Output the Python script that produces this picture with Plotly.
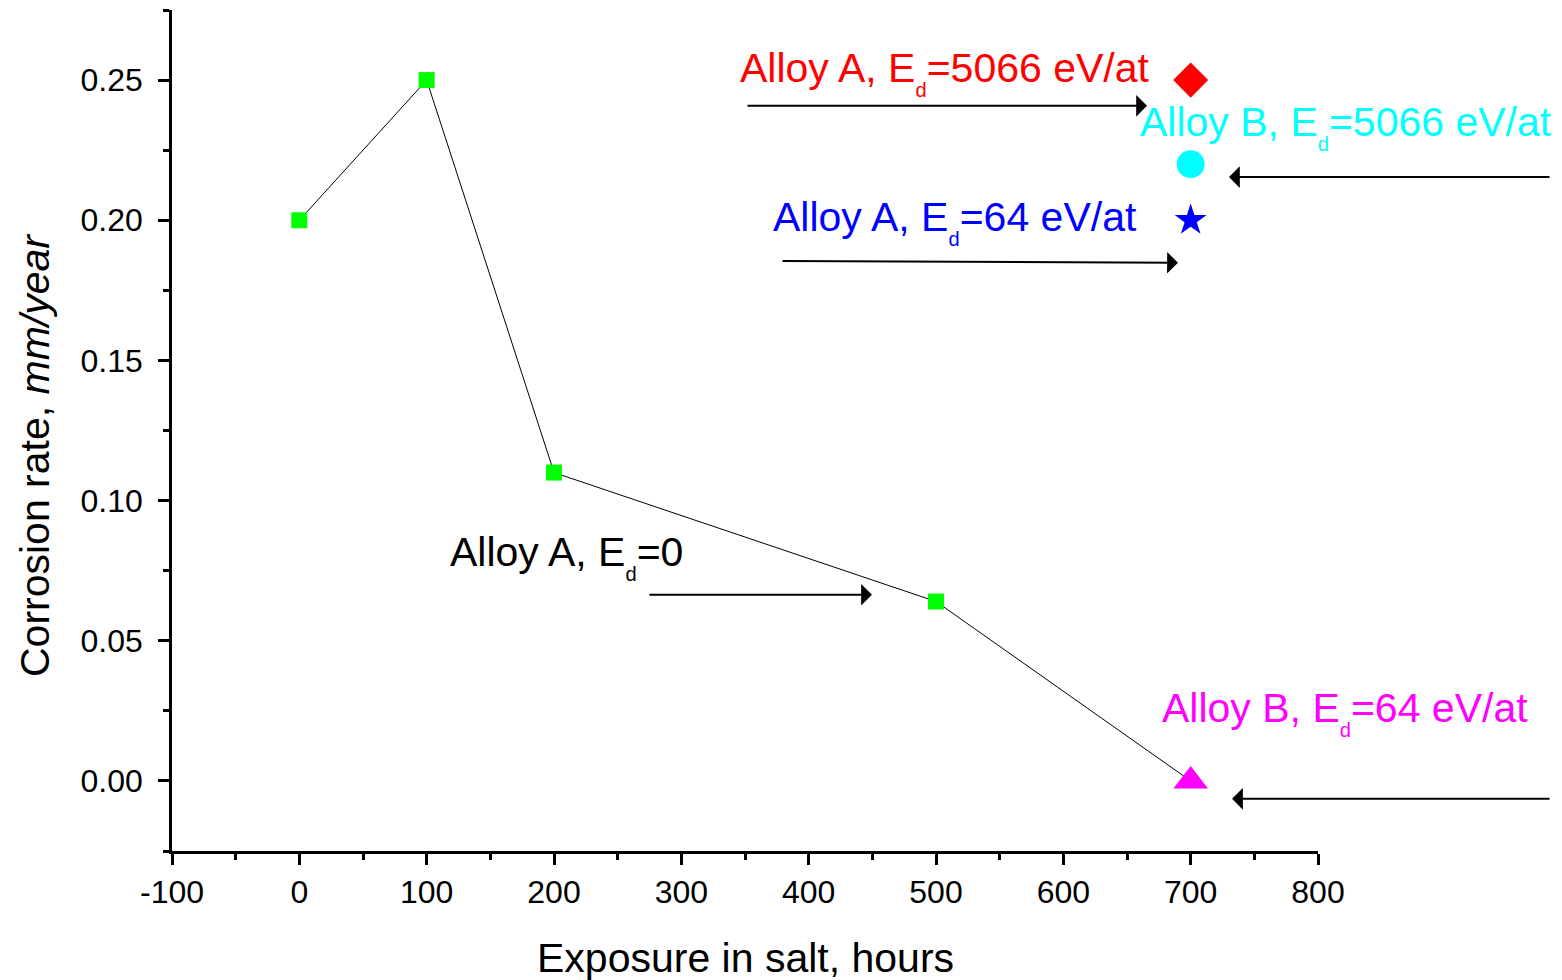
import plotly.graph_objects as go

# Data
hours_A0 = [0, 100, 200, 500]
rate_A0 = [0.20, 0.25, 0.11, 0.064]

x_single = 700
rate_A5066 = 0.25
rate_B5066 = 0.22
rate_A64 = 0.20
rate_B64 = 0.0

x_ticks = [-100, 0, 100, 200, 300, 400, 500, 600, 700, 800]
y_ticks = [0.00, 0.05, 0.10, 0.15, 0.20, 0.25]

FONT = "Arial, Liberation Sans, sans-serif"
SUB = "<sub><sub>d</sub></sub>"

fig = go.Figure()

# connecting line (Alloy A Ed=0 series continuing to 700 h)
fig.add_trace(go.Scatter(
    x=hours_A0 + [x_single], y=rate_A0 + [rate_B64], mode="lines",
    line=dict(color="black", width=1), showlegend=False, hoverinfo="skip"))
fig.add_trace(go.Scatter(
    x=hours_A0, y=rate_A0, mode="markers",
    marker=dict(symbol="square", size=16, color="#00FF00"), showlegend=False))
fig.add_trace(go.Scatter(
    x=[x_single], y=[rate_A5066], mode="markers",
    marker=dict(symbol="diamond", size=27, color="#FF0000"), showlegend=False))
fig.add_trace(go.Scatter(
    x=[x_single], y=[rate_B5066], mode="markers",
    marker=dict(symbol="circle", size=28, color="#00FFFF"), showlegend=False))
fig.add_trace(go.Scatter(
    x=[x_single], y=[rate_A64], mode="markers",
    marker=dict(symbol="star", size=24, color="#0000FF"), showlegend=False))
fig.add_trace(go.Scatter(
    x=[x_single], y=[rate_B64], mode="markers",
    marker=dict(symbol="triangle-up", size=30, color="#FF00FF"), showlegend=False))

ann = []
labels = [
    ("Alloy A, E" + SUB + "=5066 eV/at", "#FF0000", 344.5, 0.2527),
    ("Alloy B, E" + SUB + "=5066 eV/at", "#00FFFF", 658.6, 0.2331),
    ("Alloy A, E" + SUB + "=64 eV/at", "#0000FF", 370.4, 0.1992),
    ("Alloy A, E" + SUB + "=0", "#000000", 116.8, 0.0797),
    ("Alloy B, E" + SUB + "=64 eV/at", "#FF00FF", 675.9, 0.0243),
]
for txt, col, lx, ly in labels:
    ann.append(dict(x=lx, y=ly, xref="x", yref="y", text=txt, showarrow=False,
                    xanchor="left", yanchor="middle",
                    font=dict(family=FONT, size=41, color=col)))

arrows = [
    (665.7, 0.2408, 350.8, 0.2408),
    (730.1, 0.2154, 983.0, 0.2154),
    (690.0, 0.1848, 378.3, 0.1855),
    (449.7, 0.0664, 273.8, 0.0664),
    (732.5, -0.0064, 983.0, -0.0064),
]
for hx, hy, tx, ty in arrows:
    ann.append(dict(x=hx, y=hy, ax=tx, ay=ty, xref="x", yref="y", axref="x", ayref="y",
                    text="", showarrow=True, arrowhead=1, arrowsize=1.8, arrowwidth=2,
                    arrowcolor="black", standoff=0, startstandoff=0))

ann.append(dict(x=-0.1195, y=0.4709, xref="paper", yref="paper",
                text="Corrosion rate, <i>mm/year</i>", textangle=-90, showarrow=False,
                xanchor="center", yanchor="middle",
                font=dict(family=FONT, size=41, color="black")))
ann.append(dict(x=0.5, y=-0.1272, xref="paper", yref="paper",
                text="Exposure in salt, hours", showarrow=False,
                xanchor="center", yanchor="middle",
                font=dict(family=FONT, size=41, color="black")))

# page has an 8px body margin; offset the plot area to compensate
fig.update_layout(
    width=1562, height=980,
    margin=dict(l=164, r=252, t=2, b=137),
    paper_bgcolor="white", plot_bgcolor="white",
    annotations=ann,
    font=dict(family=FONT, color="black"),
)
fig.update_xaxes(
    range=[-100, 800], tickvals=x_ticks, ticktext=[str(v) for v in x_ticks],
    ticks="outside", ticklen=11, tickwidth=2.5, tickcolor="black",
    showline=True, linewidth=2.5, linecolor="black", showgrid=False, zeroline=False,
    tickfont=dict(family=FONT, size=32, color="black"),
    minor=dict(ticks="outside", ticklen=6, tickwidth=2.5, tickcolor="black",
               tick0=-100, dtick=50, showgrid=False),
)
fig.update_yaxes(
    range=[-0.025, 0.275], tickvals=y_ticks, ticktext=[f"{v:.2f}" for v in y_ticks],
    ticks="outside", ticklen=11, tickwidth=2.5, tickcolor="black",
    showline=True, linewidth=2.5, linecolor="black", showgrid=False, zeroline=False,
    tickfont=dict(family=FONT, size=32, color="black"), ticklabelstandoff=9,
    minor=dict(ticks="outside", ticklen=6, tickwidth=2.5, tickcolor="black",
               tick0=-0.025, dtick=0.025, showgrid=False),
)

fig.write_html("out.html")
